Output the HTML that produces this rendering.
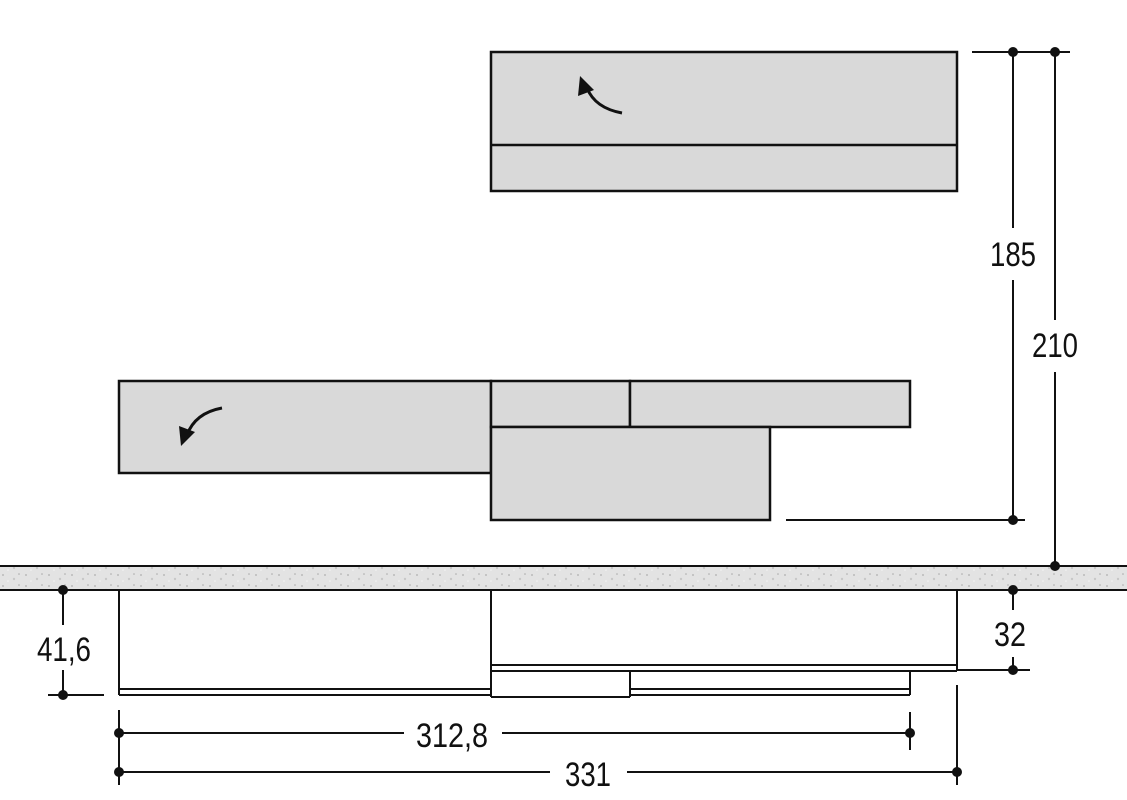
<!DOCTYPE html>
<html><head><style>body{margin:0;background:#fff}svg{display:block}</style></head><body>
<svg width="1127" height="800" viewBox="0 0 1127 800" xmlns="http://www.w3.org/2000/svg">
<defs>
<pattern id="sp" width="23" height="11" patternUnits="userSpaceOnUse">
<rect width="23" height="11" fill="#e3e3e3"/>
<circle cx="3" cy="3" r="1" fill="#bbb"/><circle cx="14" cy="7" r="1.2" fill="#c8c8c8"/><circle cx="19" cy="2" r="0.8" fill="#aaa"/><circle cx="8" cy="9" r="0.8" fill="#f5f5f5"/>
</pattern>
</defs>
<g stroke="#111" stroke-width="2.5" fill="#d9d9d9">
<rect x="491" y="52" width="466" height="139"/>
<line x1="491" y1="145" x2="957" y2="145"/>
<rect x="119" y="381" width="372" height="92"/>
<rect x="491" y="381" width="139" height="46"/>
<rect x="630" y="381" width="280" height="46"/>
<rect x="491" y="427" width="279" height="93"/>
</g>
<g fill="none" stroke="#111" stroke-width="3">
<path d="M622 113 Q595 108 587 88"/>
<path d="M222 408 Q195 413 187 435"/>
</g>
<polygon points="580,76 578,96 594,90" fill="#111"/>
<polygon points="181,446 179,426 195,432" fill="#111"/>
<rect x="0" y="566" width="1127" height="24" fill="url(#sp)"/>
<g stroke="#111" stroke-width="2" fill="none">
<line x1="0" y1="566" x2="1127" y2="566"/>
<line x1="0" y1="590" x2="1127" y2="590"/>
<line x1="119" y1="590" x2="119" y2="695"/>
<line x1="491" y1="590" x2="491" y2="697"/>
<line x1="957" y1="590" x2="957" y2="671"/>
<line x1="119" y1="689" x2="491" y2="689"/>
<line x1="119" y1="695" x2="491" y2="695"/>
<line x1="491" y1="665" x2="957" y2="665"/>
<line x1="491" y1="671" x2="957" y2="671"/>
<line x1="630" y1="671" x2="630" y2="697"/>
<line x1="491" y1="697" x2="630" y2="697"/>
<line x1="630" y1="689" x2="910" y2="689"/>
<line x1="630" y1="695" x2="910" y2="695"/>
<line x1="910" y1="671" x2="910" y2="695"/>
<line x1="972" y1="52" x2="1070" y2="52"/>
<line x1="1013" y1="52" x2="1013" y2="228"/>
<line x1="1013" y1="280" x2="1013" y2="520"/>
<line x1="1055" y1="52" x2="1055" y2="320"/>
<line x1="1055" y1="372" x2="1055" y2="566"/>
<line x1="786" y1="520" x2="1025" y2="520"/>
<line x1="63" y1="590" x2="63" y2="625"/>
<line x1="63" y1="670" x2="63" y2="695"/>
<line x1="48" y1="695" x2="104" y2="695"/>
<line x1="1013" y1="590" x2="1013" y2="610"/>
<line x1="1013" y1="657" x2="1013" y2="670"/>
<line x1="958" y1="670" x2="1030" y2="670"/>
<line x1="119" y1="710" x2="119" y2="785"/>
<line x1="910" y1="712" x2="910" y2="750"/>
<line x1="957" y1="685" x2="957" y2="785"/>
<line x1="119" y1="733" x2="404" y2="733"/>
<line x1="502" y1="733" x2="910" y2="733"/>
<line x1="119" y1="772" x2="550" y2="772"/>
<line x1="627" y1="772" x2="957" y2="772"/>
</g>
<g fill="#111">
<circle cx="1013" cy="52" r="5"/><circle cx="1055" cy="52" r="5"/>
<circle cx="1013" cy="520" r="5"/><circle cx="1055" cy="566" r="5"/>
<circle cx="63" cy="590" r="5"/><circle cx="63" cy="695" r="5"/>
<circle cx="1013" cy="590" r="5"/><circle cx="1013" cy="670" r="5"/>
<circle cx="119" cy="733" r="5"/><circle cx="910" cy="733" r="5"/>
<circle cx="119" cy="772" r="5"/><circle cx="957" cy="772" r="5"/>
</g>
<g font-family="Liberation Sans, sans-serif" font-size="34" fill="#111" text-anchor="middle">
<text x="1013" y="266" textLength="46" lengthAdjust="spacingAndGlyphs">185</text>
<text x="1055" y="357" textLength="46" lengthAdjust="spacingAndGlyphs">210</text>
<text x="64" y="661" textLength="54" lengthAdjust="spacingAndGlyphs">41,6</text>
<text x="1010" y="646" textLength="32" lengthAdjust="spacingAndGlyphs">32</text>
<text x="452" y="747" textLength="72" lengthAdjust="spacingAndGlyphs">312,8</text>
<text x="588" y="786" textLength="46" lengthAdjust="spacingAndGlyphs">331</text>
</g>
</svg>
</body></html>
